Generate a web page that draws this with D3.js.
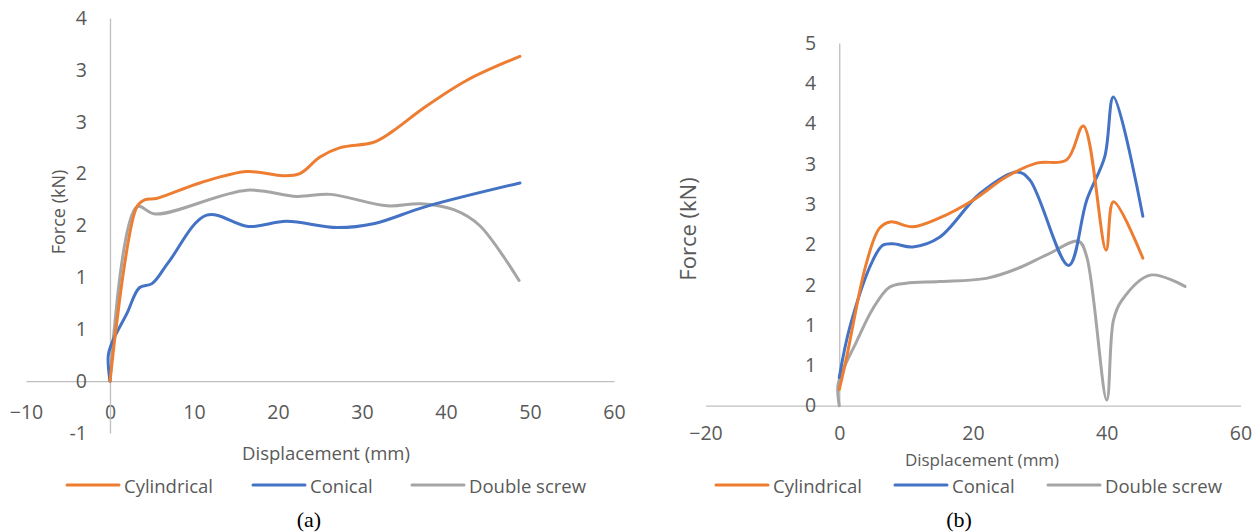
<!DOCTYPE html>
<html>
<head>
<meta charset="utf-8">
<script src="https://cdn.jsdelivr.net/npm/d3@7"></script>
<style>
  body { margin: 0; background: #fff; }
  svg { display: block; }
</style>
</head>
<body>
<div id="chart"></div>
<script>
// panel (a) data: [displacement mm, force kN]
var cylA = [[0,0],[3.2,1.68],[4.2,1.75],[5.5,1.76],[10.7,1.91],[16.3,2.02],[20.6,1.98],[22.6,2.0],[25,2.16],[27.4,2.25],[31.3,2.30],[33.5,2.40],[37.3,2.63],[42.5,2.90],[48.8,3.13]];
var conA = [[0,0],[-0.2,0.25],[0.4,0.4],[2,0.65],[3.5,0.9],[5,0.94],[7,1.15],[11.5,1.60],[16.5,1.49],[21,1.54],[27,1.48],[31.5,1.52],[37.5,1.68],[48.8,1.91]];
var dblA = [[0,0],[3.2,1.68],[5.4,1.61],[16.3,1.84],[22.2,1.78],[26.2,1.80],[33,1.69],[37,1.71],[41,1.65],[44,1.50],[48.7,0.97]];

// panel (b) data
var cylB = [[0,0.2],[1.1,0.6],[4,1.75],[6,2.2],[7.6,2.28],[11,2.22],[15,2.33],[20,2.55],[25,2.84],[29.5,3.01],[34,3.05],[36.5,3.47],[39.9,1.93],[41,2.53],[45.4,1.83]];
var conB = [[0,0.35],[1.6,0.98],[5,1.8],[6.5,1.99],[8,2.01],[11,1.97],[15,2.09],[21,2.63],[26.6,2.90],[28.5,2.80],[34.3,1.74],[37,2.55],[39.7,3.09],[41,3.83],[45.4,2.35]];
var dblB = [[0,0],[-0.2,0.25],[0.6,0.45],[2.5,0.78],[5,1.2],[7.5,1.47],[10,1.52],[15,1.54],[22,1.58],[26.6,1.70],[31,1.87],[35.8,2.04],[37,1.85],[40,0.07],[41,1.06],[42.2,1.30],[46.5,1.62],[51.7,1.48]];

// axis ticks and labels (labels as printed, rounded to whole numbers)
var xTicksA = [-10, 0, 10, 20, 30, 40, 50, 60];
var yTicksA = [-0.5, 0, 0.5, 1, 1.5, 2, 2.5, 3, 3.5];
var yLabelsA = ["-1", "0", "1", "1", "2", "2", "3", "3", "4"];

var xTicksB = [-20, 0, 20, 40, 60];
var yTicksB = [0, 0.5, 1, 1.5, 2, 2.5, 3, 3.5, 4, 4.5];
var yLabelsB = ["0", "1", "1", "2", "2", "3", "3", "4", "4", "5"];

var seriesNames = ["Cylindrical", "Conical", "Double screw"];
var colors = ["#ED7D31", "#4472C4", "#A5A5A5"];

var svg = d3.select("#chart").append("svg")
  .attr("width", 1260)
  .attr("height", 532);

function drawPanel(opt) {
  var g = svg.append("g");

  var x = d3.scaleLinear().domain(d3.extent(opt.xTicks)).range(opt.xRange);
  var y = d3.scaleLinear().domain(d3.extent(opt.yTicks)).range(opt.yRange);

  // x axis crossing at force 0
  var xAxis = d3.axisBottom(x)
    .tickValues(opt.xTicks)
    .tickSize(0)
    .tickPadding(opt.xPad)
    .tickFormat(d3.format("d"));

  var yAxis = d3.axisLeft(y)
    .tickValues(opt.yTicks)
    .tickSize(0)
    .tickPadding(23)
    .tickFormat(function(d, i) { return opt.yLabels[i]; });

  var gx = g.append("g")
    .attr("transform", "translate(0," + y(0) + ")")
    .call(xAxis);
  var gy = g.append("g")
    .attr("transform", "translate(" + x(0) + ",0)")
    .call(yAxis);

  [gx, gy].forEach(function(a) {
    a.select(".domain").attr("stroke", "#BFBFBF").attr("stroke-width", 1.3);
    a.selectAll("text")
      .attr("fill", "#595959")
      .style("font-family", "'Open Sans', sans-serif")
      .style("font-size", "19.5px");
  });

  var line = d3.line()
    .x(function(d) { return x(d[0]); })
    .y(function(d) { return y(d[1]); })
    .curve(d3.curveCatmullRom.alpha(0.5));

  // draw gray first so orange/blue sit on top
  [2, 1, 0].forEach(function(i) {
    g.append("path")
      .datum(opt.series[i])
      .attr("d", line)
      .attr("fill", "none")
      .attr("stroke", colors[i])
      .attr("stroke-width", 3)
      .attr("stroke-linecap", "round")
      .attr("stroke-linejoin", "round");
  });

  // axis titles
  g.append("text")
    .attr("x", opt.xTitle[0])
    .attr("y", opt.xTitle[1])
    .attr("text-anchor", "middle")
    .attr("dominant-baseline", "central")
    .attr("fill", "#595959")
    .style("font-family", "'Open Sans', sans-serif")
    .style("font-size", opt.xTitleSize)
    .text("Displacement (mm)");

  g.append("text")
    .attr("transform", "translate(" + opt.yTitle[0] + "," + opt.yTitle[1] + ") rotate(-90)")
    .attr("text-anchor", "middle")
    .attr("dominant-baseline", "central")
    .attr("fill", "#595959")
    .style("font-family", "'Open Sans', sans-serif")
    .style("font-size", opt.yTitleSize)
    .text("Force (kN)");

  // legend
  var leg = g.append("g");
  seriesNames.forEach(function(name, i) {
    var lx = opt.legendX[i];
    leg.append("line")
      .attr("x1", lx).attr("x2", lx + 52)
      .attr("y1", opt.legendY).attr("y2", opt.legendY)
      .attr("stroke", colors[i])
      .attr("stroke-width", 3)
      .attr("stroke-linecap", "round");
    leg.append("text")
      .attr("x", lx + 57)
      .attr("y", opt.legendY)
      .attr("dominant-baseline", "central")
      .attr("fill", "#595959")
      .style("font-family", "'Open Sans', sans-serif")
      .style("font-size", "18.5px")
      .text(name);
  });

  // panel caption
  g.append("text")
    .attr("x", opt.caption[0])
    .attr("y", opt.caption[1])
    .attr("text-anchor", "middle")
    .attr("dominant-baseline", "central")
    .attr("fill", "#000")
    .style("font-family", "'Liberation Serif', 'Times New Roman', serif")
    .style("font-size", "22px")
    .text(opt.label);
}

drawPanel({
  series: [cylA, conA, dblA],
  xTicks: xTicksA, yTicks: yTicksA, yLabels: yLabelsA,
  xRange: [26, 614], yRange: [433, 18],
  xPad: 24,
  xTitle: [326, 452], xTitleSize: "18.5px", yTitle: [58, 212], yTitleSize: "18px",
  legendX: [67, 253, 412], legendY: 485,
  caption: [309, 519], label: "(a)"
});

drawPanel({
  series: [cylB, conB, dblB],
  xTicks: xTicksB, yTicks: yTicksB, yLabels: yLabelsB,
  xRange: [705.5, 1240.5], yRange: [405.7, 43],
  xPad: 20,
  xTitle: [982, 459], xTitleSize: "17px", yTitle: [687, 229], yTitleSize: "22px",
  legendX: [716, 895, 1048], legendY: 485,
  caption: [959, 519], label: "(b)"
});
</script>
</body>
</html>
